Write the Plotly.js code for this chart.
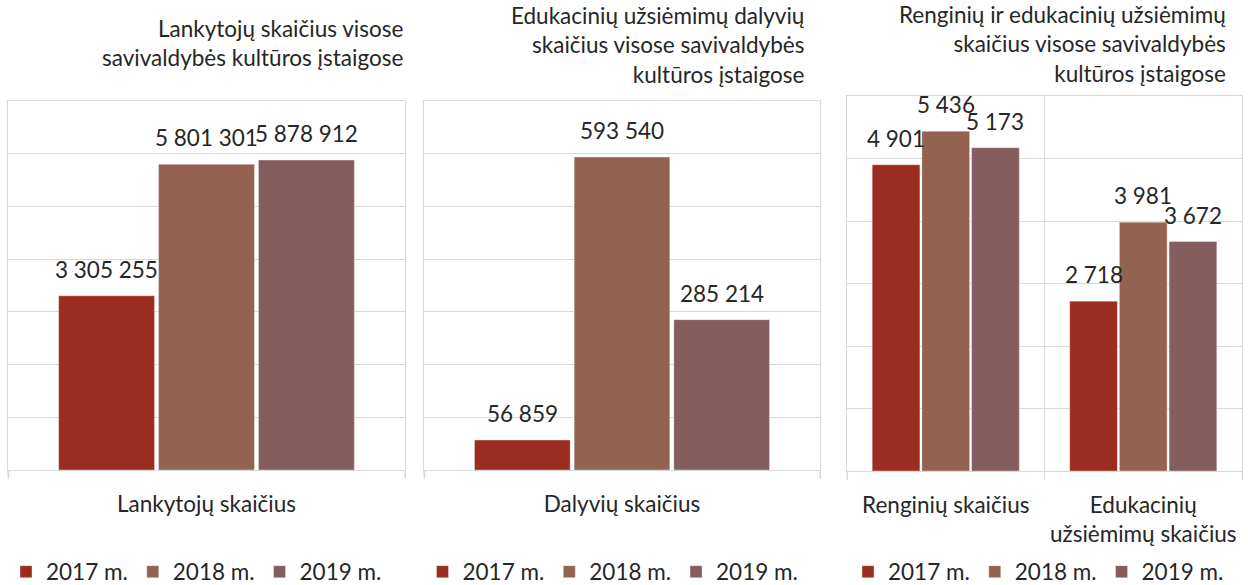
<!DOCTYPE html>
<html>
<head>
<meta charset="utf-8">
<script src="https://cdn.plot.ly/plotly-3.0.1.min.js"></script>
<style>html,body{margin:0;padding:0;background:#fff;}#chart{width:1248px;height:585px;}</style>
</head>
<body>
<div id="chart"></div>
<script>
// ---- data ----
const years = ['2017 m.', '2018 m.', '2019 m.'];
const colors = ['#9a2d20', '#946251', '#845d5e'];

const titles = [
  'Lankytojų skaičius visose<br>savivaldybės kultūros įstaigose',
  'Edukacinių užsiėmimų dalyvių<br>skaičius visose savivaldybės<br>kultūros įstaigose',
  'Renginių ir edukacinių užsiėmimų<br>skaičius visose savivaldybės<br>kultūros įstaigose'
];

const visitorsCats = ['Lankytojų skaičius'];
const visitors2017 = [3305255];
const visitors2018 = [5801301];
const visitors2019 = [5878912];

const participantsCats = ['Dalyvių skaičius'];
const participants2017 = [56859];
const participants2018 = [593540];
const participants2019 = [285214];

const eventsCats = ['Renginių skaičius', 'Edukacinių<br>užsiėmimų skaičius'];
const events2017 = [4901, 2718];
const events2018 = [5436, 3981];
const events2019 = [5173, 3672];

// ---- layout helpers ----
const W = 1248, H = 585;
const FONT = 'Lato, "Open Sans", sans-serif';
const TXT = '#262626';
const GRID = '#d9d9d9';
const FS = 22.5;
const BARGAP = 0.245;

const panels = [
  {cats: visitorsCats, series: [visitors2017, visitors2018, visitors2019], x0: 8, x1: 405, top: 101, bot: 470, ymax: 7000000, dtick: 1000000, titleRight: 405, titleTop: 13, legend: 'legend', legShift: -10},
  {cats: participantsCats, series: [participants2017, participants2018, participants2019], x0: 424, x1: 820, top: 101, bot: 470, ymax: 700000, dtick: 100000, titleRight: 807, titleTop: 0, legend: 'legend2', legShift: -9},
  {cats: eventsCats, series: [events2017, events2018, events2019], x0: 847, x1: 1242, top: 96, bot: 471, ymax: 6000, dtick: 1000, titleRight: 1228, titleTop: -1, legend: 'legend3', legShift: -6}
];

const fmt = v => String(v).replace(/\B(?=(\d{3})+(?!\d))/g, ' ');

const data = [];
const layout = {
  width: W, height: H,
  margin: {l: 0, r: 0, t: 0, b: 0, autoexpand: false},
  paper_bgcolor: '#fff', plot_bgcolor: 'rgba(0,0,0,0)',
  font: {family: FONT, size: FS, color: TXT},
  barmode: 'group',
  bargap: BARGAP,
  bargroupgap: 0.04,
  showlegend: true,
  annotations: [],
  shapes: []
};

panels.forEach((p, k) => {
  const sfx = k === 0 ? '' : String(k + 1);
  const xa = 'x' + sfx, ya = 'y' + sfx;
  const slot = (1 - BARGAP) / p.series.length;
  p.series.forEach((vals, j) => {
    data.push({
      type: 'bar', x: p.cats, y: vals, name: years[j],
      xaxis: xa, yaxis: ya, legend: p.legend,
      marker: {color: colors[j], line: {color: 'rgba(255,255,255,0.35)', width: 1}},
      hoverinfo: 'skip'
    });
    // value labels above bars
    vals.forEach((v, i) => {
      layout.annotations.push({
        xref: xa, yref: ya,
        x: i - (1 - BARGAP) / 2 + slot * (j + 0.5), y: v,
        text: fmt(v),
        showarrow: false, yanchor: 'bottom', xanchor: 'center', yshift: 11,
        font: {family: FONT, size: FS, color: TXT}
      });
    });
  });
  layout['xaxis' + sfx] = {
    domain: [p.x0 / W, p.x1 / W], anchor: ya,
    type: 'category', range: [-0.5, p.cats.length - 0.5],
    tickson: 'boundaries', ticks: 'outside', ticklen: 8, tickcolor: GRID, tickwidth: 1,
    showgrid: true, gridcolor: GRID, gridwidth: 1,
    showline: true, linecolor: GRID, linewidth: 1, mirror: true,
    zeroline: false, fixedrange: true,
    ticklabelstandoff: 14,
    tickfont: {family: FONT, size: FS, color: TXT}
  };
  layout['yaxis' + sfx] = {
    domain: [1 - p.bot / H, 1 - p.top / H], anchor: xa,
    range: [0, p.ymax], dtick: p.dtick, tick0: 0,
    showgrid: true, gridcolor: GRID, gridwidth: 1,
    zeroline: true, zerolinecolor: GRID, zerolinewidth: 1,
    showline: true, linecolor: GRID, linewidth: 1, mirror: true,
    showticklabels: false, ticks: '', fixedrange: true
  };
  // tick marks below the outer category boundaries
  [p.x0, p.x1].forEach(px => {
    layout.shapes.push({
      type: 'line', xref: 'paper', yref: 'paper',
      x0: px / W, x1: px / W, y0: 1 - p.bot / H, y1: 1 - (p.bot + 8) / H,
      line: {color: GRID, width: 1}
    });
  });
  layout[p.legend] = {
    orientation: 'h', x: ((p.x0 + p.x1) / 2 + p.legShift) / W, xanchor: 'center',
    y: 1 - 572 / H, yanchor: 'middle', xref: 'paper', yref: 'paper',
    font: {family: FONT, size: FS, color: TXT},
    bgcolor: 'rgba(0,0,0,0)', traceorder: 'normal', itemclick: false, itemdoubleclick: false
  };
  layout.annotations.push({
    xref: 'paper', yref: 'paper', x: p.titleRight / W, y: 1 - p.titleTop / H,
    xanchor: 'right', yanchor: 'top', align: 'right', showarrow: false,
    text: titles[k], font: {family: FONT, size: FS, color: TXT}
  });
});

Plotly.newPlot('chart', data, layout, {staticPlot: true, displayModeBar: false});
</script>
</body>
</html>
